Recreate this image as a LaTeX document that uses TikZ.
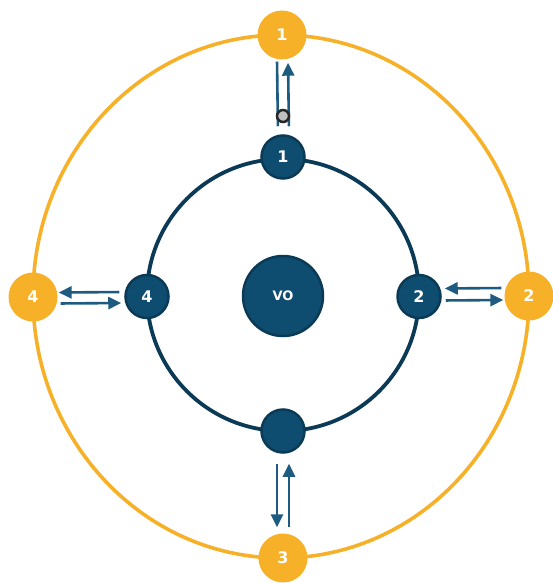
\documentclass[tikz,border=0pt]{standalone}
\usepackage{fontspec}
\newfontfamily\lblfont{DejaVu Sans}
\usetikzlibrary{arrows.meta, calc}
\definecolor{navy}{HTML}{0E4D6F}
\definecolor{navyline}{HTML}{0A3A56}
\definecolor{gold}{HTML}{F6B129}
\definecolor{arrowblue}{HTML}{1D5B80}

\begin{document}
\begin{tikzpicture}[
    x=1pt, y=-1pt,
    inner/.style={circle, draw=navyline, line width=2.5pt, fill=navy, minimum size=43pt, inner sep=0pt,
        text=white, font=\lblfont\bfseries\fontsize{16}{16}\selectfont},
    outer/.style={circle, fill=gold, minimum size=49pt, inner sep=0pt,
        text=white, font=\lblfont\bfseries\fontsize{16}{16}\selectfont},
    stopmark/.style={circle, draw=black!85, line width=2.5pt, fill=black!25, minimum size=12pt, inner sep=0pt},
    link/.style={line width=2.6pt, draw=arrowblue},
    arrow/.style={link, -{Triangle[length=13pt,width=12pt]}}
]
\useasboundingbox (0,0) rectangle (553,583);

% rings
\draw[gold, line width=3.6pt] (281,296.5) ellipse [x radius=248pt, y radius=261.5pt];
\draw[navyline, line width=3.8pt] (283,295) circle [radius=136pt];

% nodes on the outer ring
\node[outer] (o1) at (282,35) {1};
\node[outer] (o2) at (529,296) {2};
\node[outer] (o3) at (283,558) {3};
\node[outer] (o4) at (33,297) {4};

% nodes on the inner ring
\node[inner] (i1) at (283,157) {1};
\node[inner] (i2) at (419,296.5) {2};
\node[inner] (i3) at (283,431) {};
\node[inner] (i4) at (147,296.5) {4};
\node[inner, minimum size=80pt, font=\lblfont\bfseries\fontsize{13}{13}\selectfont] (vo) at (283,296) {VO};

% top
\draw[link, shorten <=2pt, shorten >=8pt] ([xshift=-5pt]o1.south) -- ([xshift=-5pt]i1.north);
\draw[arrow, shorten <=8pt, shorten >=3pt] ([xshift=6pt]i1.north) -- ([xshift=6pt]o1.south);
\node[stopmark] (stop) at (283,116) {};

% left
\draw[arrow, shorten <=5pt, shorten >=1pt] ([yshift=4.5pt]i4.west) -- ([yshift=4.5pt]o4.east);
\draw[arrow, shorten <=3pt, shorten >=3pt] ([yshift=-6.5pt]o4.east) -- ([yshift=-6.5pt]i4.west);

% right
\draw[arrow, shorten <=3pt, shorten >=3pt] ([yshift=8pt]o2.west) -- ([yshift=8pt]i2.east);
\draw[arrow, shorten <=4pt, shorten >=1pt] ([yshift=-4pt]i2.east) -- ([yshift=-4pt]o2.west);

% bottom
\draw[arrow, shorten <=10pt, shorten >=6pt] ([xshift=-6pt]i3.south) -- ([xshift=-6pt]o3.north);
\draw[arrow, shorten <=6pt, shorten >=10pt] ([xshift=6pt]o3.north) -- ([xshift=6pt]i3.south);

\end{tikzpicture}
\end{document}
